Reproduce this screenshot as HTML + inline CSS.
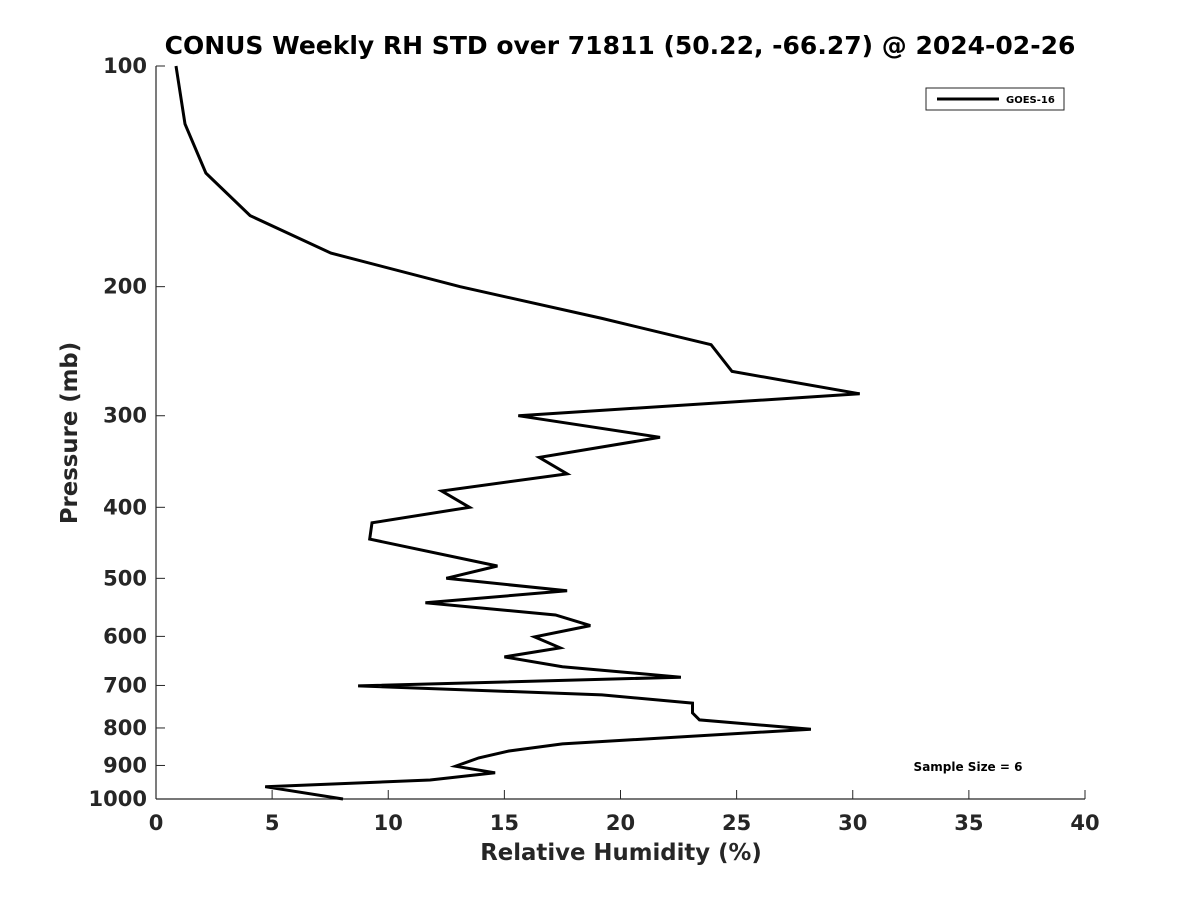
<!DOCTYPE html>
<html><head><meta charset="utf-8">
<style>
html,body{margin:0;padding:0;background:#fff;}
svg{display:block;font-family:"DejaVu Sans","Liberation Sans",sans-serif;}
</style></head>
<body>
<svg id="chart" width="1200" height="900" viewBox="0 0 1200 900">
<text x="620" y="54" text-anchor="middle" font-size="25" font-weight="bold" fill="#000">CONUS Weekly RH STD over 71811 (50.22, -66.27) @ 2024-02-26</text>
<g id="axes"></g>
<g id="series"></g>
<text x="77" y="433" text-anchor="middle" font-size="22.8" font-weight="bold" fill="#262626" transform="rotate(-90 77 433)">Pressure (mb)</text>
<text x="621" y="860" text-anchor="middle" font-size="22.8" font-weight="bold" fill="#262626">Relative Humidity (%)</text>
<g>
<rect x="926" y="88" width="138" height="22" fill="#fff" stroke="#262626" stroke-width="1"/>
<line x1="937" y1="99" x2="999" y2="99" stroke="#000" stroke-width="3"/>
<text x="1006" y="103" font-size="10" font-weight="bold" fill="#000">GOES-16</text>
</g>
<text x="968" y="771" text-anchor="middle" font-size="12" font-weight="bold" fill="#000">Sample Size = 6</text>
</svg>
<script>
const rhValues = [0.86,1.25,2.15,4.05,7.53,13.1,19.2,23.9,24.8,30.3,15.6,21.7,16.5,17.7,12.3,13.5,9.3,9.2,14.7,12.5,17.7,11.6,17.2,18.7,16.3,17.4,15.0,17.5,22.6,8.7,19.2,23.1,23.1,23.4,28.2,17.5,15.2,13.9,12.9,14.6,11.8,4.7,8.05];
const pressureLevels = [100,120,140,160,180,200,221,240,261,280,300,321,342,360,380,400,420,442,481,500,520,540,561,580,601,622,640,660,682,701,721,740,763,780,803,841,860,879,902,921,942,962,1000];
const xTicks = [0,5,10,15,20,25,30,35,40];
const yTicks = [100,200,300,400,500,600,700,800,900,1000];

const X0=156, X1=1085, Y0=66, Y1=799;
const xs = v => X0 + (v-0)/(40-0)*(X1-X0);
const ys = p => Y0 + (Math.log10(p)-2)/(3-2)*(Y1-Y0);
const NS="http://www.w3.org/2000/svg";
const axes=document.getElementById('axes');
function mk(tag,attrs,parent){const e=document.createElementNS(NS,tag);for(const k in attrs)e.setAttribute(k,attrs[k]);parent.appendChild(e);return e;}

const xl=mk('line',{x1:X0,y1:Y1,x2:X1,y2:Y1,stroke:'#262626','stroke-width':1.2},axes);


const yl=mk('line',{x1:X0,y1:Y0,x2:X0,y2:Y1,stroke:'#262626','stroke-width':1.2},axes);



xTicks.forEach(t=>{
  const x=xs(t);
  const tk=mk('line',{x1:x,y1:Y1,x2:x,y2:Y1-9,stroke:'#262626','stroke-width':1},axes);
  
  
  const lb=mk('text',{x:x,y:Y1+31,'text-anchor':'middle','font-size':21,'font-weight':'bold',fill:'#262626'},axes);
  lb.textContent=t;
  
  
});
yTicks.forEach(t=>{
  const y=ys(t);
  const tk=mk('line',{x1:X0,y1:y,x2:X0+9,y2:y,stroke:'#262626','stroke-width':1},axes);
  
  
  const lb=mk('text',{x:X0-9,y:y+7,'text-anchor':'end','font-size':21,'font-weight':'bold',fill:'#262626'},axes);
  lb.textContent=t;
  
  
});

const pts=rhValues.map((v,i)=>xs(v).toFixed(1)+','+ys(pressureLevels[i]).toFixed(1)).join(' ');
const line=mk('polyline',{points:pts,fill:'none',stroke:'#000','stroke-width':3,'stroke-linejoin':'miter'},document.getElementById('series'));


</script>
</body></html>
